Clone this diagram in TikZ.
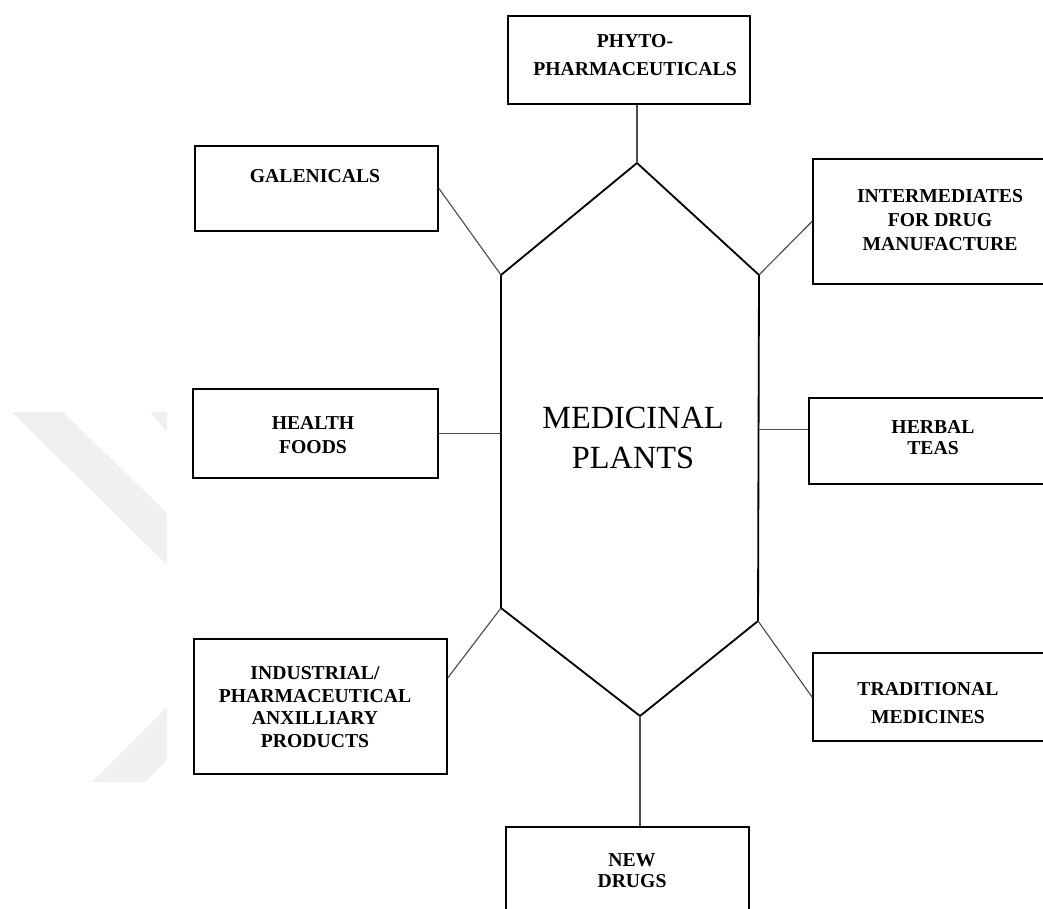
\documentclass[tikz,border=0pt]{standalone}
\usepackage{fontspec}
\setmainfont{Liberation Serif}
\usetikzlibrary{calc}
\begin{document}
\begin{tikzpicture}[x=0.025cm, y=-0.025cm,
    boxStyle/.style={rectangle, draw, line width=1.3pt, inner sep=0pt, anchor=north west},
    labelStyle/.style={align=center, inner sep=0pt, font=\fontsize{14}{17}\selectfont\bfseries},
    linkStyle/.style={draw=black!70, line width=0.8pt},
    markStyle/.style={fill=gray!12, draw=none}]
                    \useasboundingbox (0,0) rectangle (1043,908);
                    \clip (0,0) rectangle (1043,908);

                    % faint watermark on the left
                    \fill[markStyle] (12,412) -- (63,412) -- (167,513) -- (167,565) -- cycle;
                    \fill[markStyle] (150,412) -- (167,412) -- (167,432) -- cycle;
                    \fill[markStyle] (92,782) -- (145,782) -- (167,760) -- (167,707) -- cycle;

                    % central hexagon
                    \coordinate (hexT)  at (637,163);
                    \coordinate (hexUR) at (759,275);
                    \coordinate (hexLR) at (758,621);
                    \coordinate (hexB)  at (640,716);
                    \coordinate (hexLL) at (501,608);
                    \coordinate (hexUL) at (501,275);
                    \draw[line width=1.3pt] (hexT) -- (hexUR) -- (hexLR) -- (hexB) -- (hexLL) -- (hexUL) -- cycle;
                    \node[align=center, inner sep=0pt, font=\fontsize{23}{28}\selectfont] (plants) at (633,438) {MEDICINAL\\PLANTS};

                    % boxes
                    \node[boxStyle, minimum width=6.05cm,  minimum height=2.2cm]   (phyto)  at (507,15)  {};
                    \node[boxStyle, minimum width=6.075cm, minimum height=2.125cm] (galen)  at (194,145) {};
                    \node[boxStyle, minimum width=6.7cm,   minimum height=3.125cm] (inter)  at (812,158) {};
                    \node[boxStyle, minimum width=6.125cm, minimum height=2.225cm] (health) at (192,388) {};
                    \node[boxStyle, minimum width=6.8cm,   minimum height=2.15cm]  (herbal) at (808,397) {};
                    \node[boxStyle, minimum width=6.325cm, minimum height=3.375cm] (indust) at (193,638) {};
                    \node[boxStyle, minimum width=6.7cm,   minimum height=2.2cm]   (trad)   at (812,652) {};
                    \node[boxStyle, minimum width=6.075cm, minimum height=2.6cm]   (newdr)  at (505,826) {};

                    % box texts
                    \node[labelStyle, font=\fontsize{14}{20}\selectfont\bfseries] (phytoL) at (635,55) {PHYTO-\\PHARMACEUTICALS};
                    \node[labelStyle] (galenL)  at (315,176) {GALENICALS};
                    \node[labelStyle] (interL)  at (940,220) {INTERMEDIATES\\FOR DRUG\\MANUFACTURE};
                    \node[labelStyle] (healthL) at (313,435) {HEALTH\\FOODS};
                    \node[labelStyle, font=\fontsize{14}{15}\selectfont\bfseries] (herbalL) at (933,438) {HERBAL\\TEAS};
                    \node[labelStyle, font=\fontsize{14}{16}\selectfont\bfseries] (industL) at (315,707) {INDUSTRIAL/\\PHARMACEUTICAL\\ANXILLIARY\\PRODUCTS};
                    \node[labelStyle, font=\fontsize{14}{20}\selectfont\bfseries] (tradL)   at (928,703) {TRADITIONAL\\MEDICINES};
                    \node[labelStyle, font=\fontsize{14}{15}\selectfont\bfseries] (newdrL)  at (632,871) {NEW\\DRUGS};

                    % connectors
                    \draw[linkStyle] (phyto.south -| hexT) -- (hexT);
                    \draw[linkStyle] (galen.east) -- (hexUL);
                    \draw[linkStyle] (inter.west) -- (hexUR);
                    \draw[linkStyle] (health.east) -- (health.east -| hexUL);
                    \draw[linkStyle] ($(herbal.north west)!0.37!(herbal.south west)$) coordinate (herbalC) -- (herbalC -| hexUR);
                    \draw[linkStyle] ($(indust.north east)!0.29!(indust.south east)$) -- (hexLL);
                    \draw[linkStyle] (trad.west) -- (hexLR);
                    \draw[linkStyle] (hexB) -- (newdr.north -| hexB);
                \end{tikzpicture}
\end{document}
